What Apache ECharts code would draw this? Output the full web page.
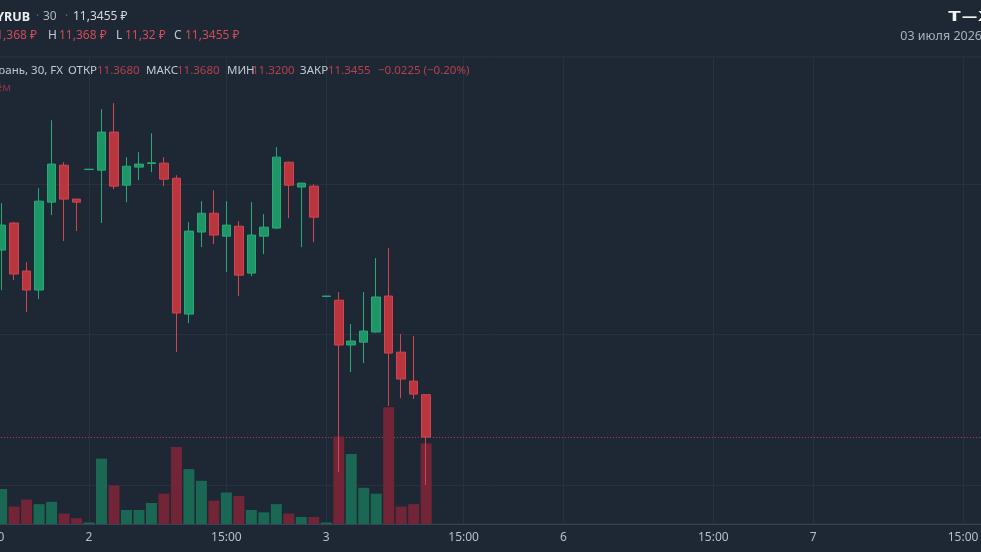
<!DOCTYPE html>
<html><head><meta charset="utf-8">
<script src="https://cdn.jsdelivr.net/npm/echarts@6/dist/echarts.min.js"></script>
<style>html,body{margin:0;padding:0;background:#1e2734;overflow:hidden}#c{width:981px;height:552px;}</style>
</head><body><div id="c"></div><script>
// sessions: [day of month, first 30-min slot, number of slots]
const days = [['1','15:00',8],['2','09:30',19],['3','09:30',19],['6','09:00',20],['7','09:00',14]];
const opens  = [11.4400,11.4448,11.4592,11.4337,11.4236,11.4703,11.4899,11.4719,11.4876,11.4873,
                11.5075,11.4793,11.4889,11.4908,11.4910,11.4830,11.4108,11.4544,11.4644,11.4522,
                11.4575,11.4326,11.4522,11.4565,11.4915,11.4783,11.4788,11.4202,11.4182,11.3944,
                11.3959,11.4013,11.4204,11.3906,11.3752,11.3680];
const closes = [11.4448,11.4581,11.4321,11.4236,11.4708,11.4905,11.4719,11.4703,11.4878,11.5075,
                11.4788,11.4894,11.4905,11.4912,11.4825,11.4114,11.4549,11.4644,11.4528,11.4581,
                11.4315,11.4528,11.4570,11.4942,11.4793,11.4804,11.4623,11.4204,11.3944,11.3965,
                11.4018,11.4199,11.3901,11.3763,11.3683,11.3455];
const lows   = [11.4350,11.4236,11.4289,11.4119,11.4188,11.4634,11.4496,11.4549,11.4876,11.4592,
                11.4772,11.4703,11.4820,11.4862,11.4788,11.3906,11.4060,11.4464,11.4480,11.4331,
                11.4204,11.4310,11.4427,11.4560,11.4618,11.4464,11.4490,11.4202,11.3269,11.3800,
                11.3848,11.4010,11.3620,11.3662,11.3657,11.3200];
const highs  = [11.4520,11.4698,11.4597,11.4384,11.4777,11.5138,11.4915,11.4719,11.4878,11.5197,
                11.5229,11.4942,11.4968,11.5069,11.4942,11.4846,11.4597,11.4708,11.4767,11.4708,
                11.4602,11.4703,11.4639,11.4995,11.4918,11.4806,11.4798,11.4204,11.4225,11.4055,
                11.4225,11.4406,11.4459,11.4002,11.3992,11.3680];
const volumes = [20,30,15,21,17,19,9,5,1.3,56,
                 33,12,12,18,26,66,47,37,20,27,
                 24,12,10,17,9,6,6,1.3,75,60,
                 31,26,100,15,17,69];
const gridPrices = [11.32, 11.40, 11.48];
const priceMin = 11.2993, priceMax = 11.5474;
const volMax = 400;
const symbol = 'CNYRUB', interval = '30', instrument = 'Китайский юань, 30, FX', dateText = '03 июля 2026';

const FONT = '"Noto Sans", "DejaVu Sans", sans-serif';
const categories = [];
const labelOf = {};
days.forEach(([d, start, n]) => {
  let [h, m] = start.split(':').map(Number);
  for (let i = 0; i < n; i++) {
    const t = String(h).padStart(2,'0') + ':' + String(m).padStart(2,'0');
    const key = d + ' ' + t;
    categories.push(key);
    labelOf[key] = (i === 0 && d !== '1') ? d : (t === '15:00' ? '15:00' : '');
    m += 30; if (m >= 60) { m -= 60; h++; }
  }
});

const last = closes.length - 1;
const O = opens[last], H = highs[last], L = lows[last], C = closes[last];
const comma = v => String(+v.toFixed(4)).replace('.', ',') + ' ₽';
const chg = C - O;
const minus = s => s.replace('-', '−');
const chgText = minus(chg.toFixed(4)) + ' (' + minus((chg / O * 100).toFixed(2)) + '%)';

const UP = '#1f9668', UPB = '#27aa76', DN = '#b9363f', DNB = '#d0454f';
const VUP = '#1a6753', VDN = '#722537';
const RED = '#cf4c58', RED3 = '#b8404c', LBL = '#c3c8d0';

function txt(x, y, text, fill, size, opts) {
  opts = opts || {};
  return {type:'text', x:x, y:y, silent:true, z:100, scaleX: opts.sx || 1,
    style:{text:text, fill:fill, font:(opts.bold?'bold ':'') + size + 'px ' + FONT,
           textAlign: opts.align || 'left', textVerticalAlign:'middle'}};
}

const graphics = [
  txt(30, 17, symbol, '#eceef2', 12.5, {bold:true, align:'right'}),
  txt(36, 17, '·', '#5d6673', 12),
  txt(43, 17, interval, '#b0b6c0', 12),
  txt(65, 17, '·', '#5d6673', 12),
  txt(73, 17, comma(C), '#d4d8de', 12),
  txt(37, 36, 'O ' + comma(O), RED, 12, {align:'right'}),
  txt(48, 36, 'H', LBL, 12),
  txt(59, 36, comma(H), RED, 12),
  txt(116, 36, 'L', LBL, 12),
  txt(125, 36, comma(L), RED, 12),
  txt(174, 36, 'C', LBL, 12),
  txt(185, 36, comma(C), RED, 12),
  txt(63, 71, instrument, LBL, 11.5, {align:'right'}),
  txt(68, 71, 'ОТКР', LBL, 11.5),
  txt(97, 71, O.toFixed(4), RED3, 11.5),
  txt(146, 71, 'МАКС', LBL, 11.5),
  txt(177, 71, H.toFixed(4), RED3, 11.5),
  txt(227, 71, 'МИН', LBL, 11.5),
  txt(252, 71, L.toFixed(4), RED3, 11.5),
  txt(300, 71, 'ЗАКР', LBL, 11.5),
  txt(328, 71, C.toFixed(4), RED3, 11.5),
  txt(378, 71, chgText, RED3, 11.5),
  txt(11, 88, 'Объём', '#8e3545', 11.5, {align:'right'}),
  txt(948, 17, 'Т', '#f2f3f5', 14, {bold:true, sx:1.6}),
  txt(962, 17, '—', '#f2f3f5', 14, {bold:true, sx:1.08}),
  txt(978, 17, 'Ж', '#f2f3f5', 14, {bold:true, sx:1.4}),
  txt(982, 36, dateText, '#aab1bc', 12.5, {align:'right'})
];

const chart = echarts.init(document.getElementById('c'), null, {renderer:'canvas'});
chart.setOption({
  backgroundColor: '#1e2734',
  animation: false,
  textStyle: {fontFamily: FONT},
  grid: {left: -17.1, right: -0.8, top: 57, bottom: 28, show: true, borderColor: '#2b3441', borderWidth: 1,
         containLabel: false, outerBoundsMode: 'none'},
  xAxis: {type:'category', data: categories, boundaryGap: true,
    axisLine: {show:true, lineStyle:{color:'#3a4351'}},
    axisTick: {show:false}, splitLine: {show:false},
    axisLabel: {interval: (i, v) => labelOf[v] !== '', formatter: v => labelOf[v],
                color:'#b9bfc8', fontSize:12, margin:8, fontFamily: FONT}},
  yAxis: [
    {type:'value', min: priceMin, max: priceMax, show:false, splitLine:{show:false}},
    {type:'value', min: 0, max: volMax, show:false, splitLine:{show:false}}
  ],
  series: [
    {type:'bar', xAxisIndex:0, yAxisIndex:1, barWidth: 11, z: 3, silent: true,
     data: volumes.map((v, i) => ({value: v, itemStyle: {color: closes[i] >= opens[i] ? VUP : VDN}}))},
    {type:'candlestick', xAxisIndex:0, yAxisIndex:0, barWidth: 9, z: 4, silent: true,
     data: opens.map((o, i) => [o, closes[i], lows[i], highs[i]]),
     itemStyle: {color: UP, color0: DN, borderColor: UPB, borderColor0: DNB, borderWidth: 1},
     markLine: {z: 1, silent: true, precision: 4, symbol: ['none','none'], label: {show:false}, animation: false,
       lineStyle: {color:'#283140', width:1, type:'solid'},
       data: [
         ...gridPrices.map(p => ({yAxis: p})),
         ...categories.filter(c => labelOf[c]).map(c => ({xAxis: c})),
         {yAxis: C, lineStyle: {color:'#b04255', width:1, type:[1,2]}}
       ]}}
  ],
  graphic: graphics
});
</script></body></html>
